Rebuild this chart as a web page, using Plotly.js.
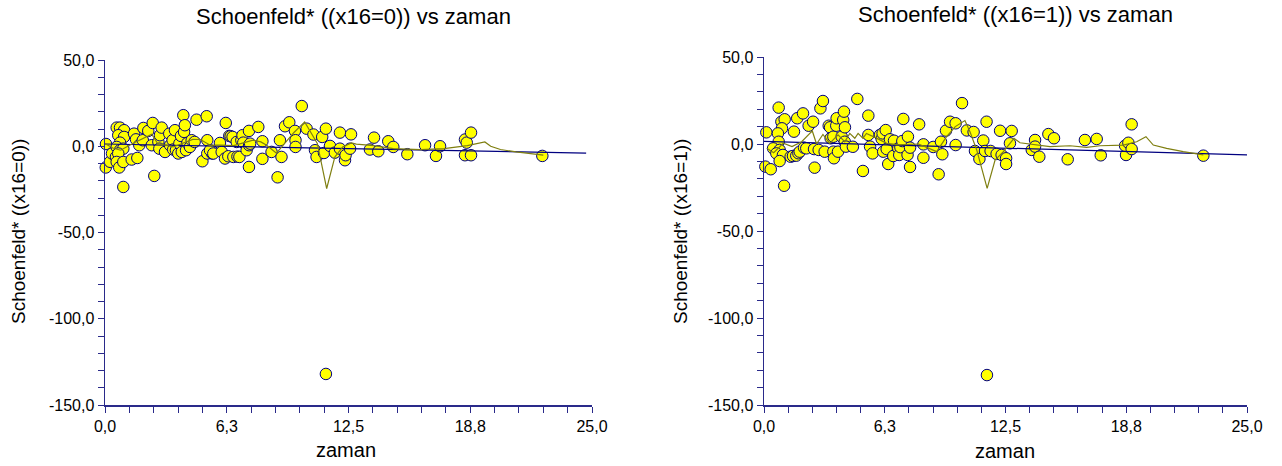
<!DOCTYPE html>
<html>
<head>
<meta charset="utf-8">
<script src="https://cdn.plot.ly/plotly-3.0.1.min.js"></script>
<style>html,body{margin:0;padding:0;background:#fff;}#chart{width:1282px;height:466px;}</style>
</head>
<body>
<div id="chart"></div>
<script>
// ---- Tick labels ----
const xTickVals = [0,1.25,2.5,3.75,5,6.25,7.5,8.75,10,11.25,12.5,13.75,15,16.25,17.5,18.75,20,21.25,22.5,23.75,25];
const xTickText = ['0,0','','','','','6,3','','','','','12,5','','','','','18,8','','','','','25,0'];
const yTickVals = [-150,-140,-130,-120,-110,-100,-90,-80,-70,-60,-50,-40,-30,-20,-10,0,10,20,30,40,50];
const yTickText = ['-150,0','','','','','-100,0','','','','','-50,0','','','','','0,0','','','','','50,0'];

// ---- Panel 1 (x16=0): Schoenfeld residuals vs zaman ----
const zaman0 = [0.05,0.04,0.26,0.36,0.56,0.6,0.77,0.98,0.68,0.98,0.77,0.6,0.77,0.94,0.68,0.6,0.73,0.94,0.94,
 1.37,1.66,1.49,1.59,1.76,1.97,1.94,2.22,2.45,2.53,2.4,2.74,2.82,2.91,2.79,3.08,3.3,3.34,3.47,3.5,3.59,3.64,3.76,
 3.82,3.9,3.94,4.02,4.06,4.1,4.16,4.23,4.36,4.45,4.6,4.7,5.0,5.22,5.25,5.25,5.5,5.39,5.56,5.9,5.99,6.16,6.2,6.33,
 6.38,6.45,6.55,6.59,6.76,6.8,6.9,7.0,7.06,7.1,7.27,7.39,7.4,7.45,7.39,7.87,8.08,8.08,8.55,8.86,8.98,9.06,9.24,
 9.46,9.75,9.78,9.78,10.1,10.35,10.7,10.78,10.86,11.15,11.24,11.34,11.55,11.8,12.06,12.06,12.32,12.35,12.58,
 12.63,13.6,13.81,14.03,14.54,14.8,15.52,16.43,16.99,17.2,18.48,18.57,18.79,18.48,18.79,22.45,11.34];
const resid0 = [1.3,-12.3,-9,-4.2,-6.2,10.8,10.8,9.3,6.4,5.4,2.1,-0.4,-2.3,-1.4,-4.2,-9.1,-12.3,-9.1,-23.6,
 -7.7,-6.8,7.3,4,0.6,10.6,3.5,8.9,13.5,-17.2,0.6,2.5,6.4,10.8,-1.4,-3.3,7.3,0.6,3.5,-1.9,9.3,-2.3,-4.2,
 1.6,6,-3.3,18,8.3,12.2,-2.3,1.9,-0.4,3.5,2.5,15.4,-8.7,17.4,3.5,-4.2,-4.2,-2.3,-4.2,1.9,-3.3,-7.1,13.5,-5.8,
 6,5.8,5.4,-6.2,2.5,-6,-6.2,3.5,6.4,2.1,-2.3,8.9,0.6,1.5,-12,11.2,2.9,-7.3,-3.3,-18,3.5,-6.2,11.6,
 13.9,8.9,3.5,-0.4,23.3,10.2,6.8,-2.3,-6.2,5.4,-3.9,10.2,0.2,-3.7,7.9,-1.4,-8.1,-5.2,-1.4,
 6.9,-1.9,5,-2.9,2.9,-0.4,-4.6,0.6,-5.6,0,3.9,2.1,7.9,-5.2,-5.2,-5.6,-132];

const fitX0 = [0, 24.7];
const fitY0 = [1.3, -4];
const smoothX0 = [0,0.4,0.8,1.5,2.4,2.7,3.5,4.5,4.9,5.4,5.9,6.6,7.6,8.0,8.3,8.8,9.7,10.25,10.5,10.9,11.38,11.8,12.2,12.65,12.9,13.8,14.8,16.2,17.4,18.6,19.5,19.8,20.3,21.1,22.5];
const smoothY0 = [1.6,-1,-2.3,2,7,1.6,-0.4,4,3.9,0.6,0.6,0.4,3.5,2.5,0.6,-4,8,14.1,9.3,1.6,-24.5,-6.2,-0.4,1.9,1.2,0.4,-1.4,-1.9,-1.4,0.4,2.5,0,-1.9,-3.3,-5.2];

// ---- Panel 2 (x16=1) ----
const zaman1 = [0.12,0.07,0.35,0.76,0.9,1.07,0.93,0.72,0.76,0.47,0.81,0.64,0.98,0.81,1.04,1.38,1.5,1.67,1.78,1.85,
 2.07,2.19,1.55,1.72,2.02,2.31,2.54,2.62,2.59,2.83,2.92,3.05,3.14,3.35,3.42,3.45,3.59,3.59,3.62,3.74,3.76,3.83,
 4.02,4.1,4.14,4.19,4.18,4.24,4.6,4.83,5.12,5.4,5.4,5.49,5.62,6.0,6.09,6.14,6.3,6.17,6.35,6.43,6.52,6.73,6.69,
 6.95,7.0,7.06,7.16,7.21,7.45,7.43,7.56,7.56,8.03,8.25,8.25,8.76,9.04,9.16,9.23,9.42,9.63,9.92,9.92,10.25,10.5,
 10.85,10.92,11.15,11.35,11.44,11.52,11.73,12.04,12.22,12.3,12.53,12.53,12.73,12.82,13.86,14.03,14.03,14.25,
 14.72,15.01,15.72,16.61,17.22,17.43,18.74,18.69,18.86,19.03,19.03,22.74,11.54];
const resid1 = [6.7,-13,-14.5,20.9,12.8,14.2,9,6.1,1.3,-2.5,-3.4,-5.4,-6.3,-9.8,-24,-7.3,-6.9,-6.7,-5.3,-4.4,
 -2.1,-2.5,7.1,14.8,17.6,10.5,12.8,-13.6,-2.9,-3.4,20.5,24.7,-4.4,10.5,9.6,3.3,4.2,-4.4,-8.2,10.5,14.8,-4.4,
 4.2,13.8,18.6,9.6,1.3,-1.5,-1.6,25.9,-15.5,16.3,5.2,-1.5,-5.4,5.2,2.9,6.1,8,-4.4,-2.9,-11.5,2.7,1.9,-6.9,
 -2.5,-6.3,-1.8,1.7,14.4,4.2,-6.3,-2.1,-13.2,11.3,-0.2,-7.9,-1.7,-17.4,1.3,-5.9,7.7,12.8,11.9,-0.6,23.5,7.8,
 6.9,-4,-8.6,2,-4,12.8,-4,-5.7,7.6,-6.3,-8.2,-11.5,0.4,7.5,-3.4,2.3,-1.5,-7.3,
 5.7,3.3,-8.8,2.3,2.9,-6.5,-6.3,-1,0.7,11.3,-2.9,-6.7,-132.8];

const fitX1 = [0, 25];
const fitY1 = [1.5, -6.3];
const smoothX1 = [0.15,0.5,1.0,1.45,1.95,2.5,2.72,3.05,3.4,3.83,4.18,4.44,4.7,4.87,5.12,5.3,5.8,6.35,7.0,8.0,8.94,9.45,9.9,10.4,10.66,11.01,11.55,11.96,12.39,12.94,13.25,14.11,14.8,15.84,16.7,17.39,18.6,19.29,19.77,20.15,20.84,21.7,22.74];
const smoothY1 = [-2.5,-5,0.4,-1.5,1.3,7.5,0,5.5,0.4,5.2,1.3,6.1,3.3,6.1,3.3,6.1,3.5,0.4,-0.5,0,-4.4,4.2,10,13.5,7.1,-3.4,-25.5,-9.2,-4.4,3.3,0.7,-0.6,-1.5,-1,-1.9,-1,-0.6,1.3,4.2,-0.6,-2.5,-4.4,-6.3];

// ---- Styles ----
const NAVY = '#000080';
const AXIS = '#2a2a8a';
const OLIVE = '#7f7f10';
const marker = {size: 11.5, color: '#ffff00', line: {color: NAVY, width: 1}};

function pts(x, y, xa, ya) {
  return {x, y, xaxis: xa, yaxis: ya, type: 'scatter', mode: 'markers', marker, cliponaxis: false, hoverinfo: 'skip'};
}
function line(x, y, xa, ya, color, w) {
  return {x, y, xaxis: xa, yaxis: ya, type: 'scatter', mode: 'lines', line: {color, width: w}, cliponaxis: false, hoverinfo: 'skip'};
}

const data = [
  pts(zaman0, resid0, 'x', 'y'),
  line(fitX0, fitY0, 'x', 'y', NAVY, 1.2),
  line(smoothX0, smoothY0, 'x', 'y', OLIVE, 1.2),
  pts(zaman1, resid1, 'x2', 'y2'),
  line(fitX1, fitY1, 'x2', 'y2', NAVY, 1.2),
  line(smoothX1, smoothY1, 'x2', 'y2', OLIVE, 1.2)
];

const W = 1282, H = 466;
const tickFont = {family: 'Liberation Sans, Arial, sans-serif', size: 16, color: '#000'};
function xax(d0, d1, anchor) {
  return {domain: [d0 / W, d1 / W], range: [0, 25], anchor,
    tickmode: 'array', tickvals: xTickVals, ticktext: xTickText,
    ticks: 'outside', ticklen: 6, tickwidth: 1, tickcolor: AXIS,
    showline: true, linecolor: AXIS, linewidth: 1.5, showgrid: false, zeroline: false,
    tickfont: tickFont, fixedrange: true};
}
function yax(top, bottom, anchor) {
  return {domain: [(H - bottom) / H, (H - top) / H], range: [-150, 50], anchor,
    tickmode: 'array', tickvals: yTickVals, ticktext: yTickText,
    ticks: 'outside', ticklen: 6, tickwidth: 1, tickcolor: AXIS,
    showline: true, linecolor: AXIS, linewidth: 1.5, showgrid: false, zeroline: false,
    tickfont: tickFont, fixedrange: true};
}

function ann(text, xpx, ypx, angle, size) {
  return {text, x: xpx / W, y: 1 - ypx / H, xref: 'paper', yref: 'paper', showarrow: false,
    xanchor: 'center', yanchor: 'middle', textangle: angle || 0,
    font: {family: 'Liberation Sans, Arial, sans-serif', size: size, color: '#000'}};
}

const layout = {
  width: W, height: H,
  margin: {l: 0, r: 0, t: 0, b: 0},
  paper_bgcolor: '#fff', plot_bgcolor: '#fff',
  showlegend: false,
  font: {family: 'Liberation Sans, Arial, sans-serif', color: '#000'},
  xaxis: xax(105, 592, 'y'),
  yaxis: yax(60, 405, 'x'),
  xaxis2: xax(764, 1247, 'y2'),
  yaxis2: yax(57, 405, 'x2'),
  annotations: [
    ann('Schoenfeld* ((x16=0)) vs zaman', 353, 17, 0, 22),
    ann('Schoenfeld* ((x16=1)) vs zaman', 1015, 15, 0, 22),
    ann('Schoenfeld* ((x16=0))', 18, 232, -90, 19),
    ann('Schoenfeld* ((x16=1))', 680, 232, -90, 19),
    ann('zaman', 346, 450, 0, 20),
    ann('zaman', 1005, 451, 0, 20)
  ]
};

Plotly.newPlot('chart', data, layout, {staticPlot: true, displayModeBar: false});
</script>
</body>
</html>
